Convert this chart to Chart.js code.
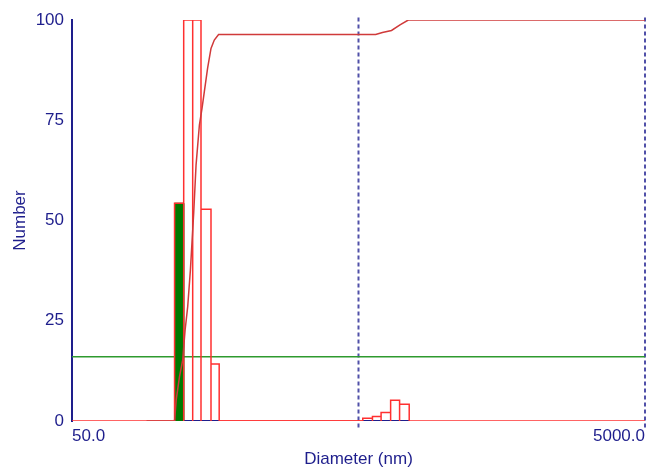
<!DOCTYPE html>
<html>
<head>
<meta charset="utf-8">
<title>Number distribution</title>
<script src="https://cdn.jsdelivr.net/npm/chart.js@4/dist/chart.umd.min.js"></script>
<style>
    body { margin: 0; background: #ffffff; }
    #wrap { width: 650px; height: 470px; }
</style>
</head>
<body>
<div id="wrap"><canvas id="chart" width="650" height="470"></canvas></div>
<script>
// Histogram bins (nm) and counts
const binStart = [114.0, 122.7, 131.9, 141.0, 152.8, 517.5, 559.4, 599.5, 647.3, 695.6];
const binEnd   = [122.7, 131.9, 141.0, 152.8, 163.2, 559.4, 599.5, 647.3, 695.6, 751.6];
const counts   = [54.3, 100, 100, 52.8, 14.2, 0.7, 1.1, 2.1, 5.2, 4.2];
const highlightBin = 0;

// Cumulative curve (%)
const cumDiam = [91, 114, 115.5, 118.6, 121.7, 124.1, 126.7, 129.5, 133.0, 135.5, 139.2, 142.2, 144.8, 148.7, 152.8, 156.9, 162.4, 574, 606, 652, 698, 746, 5000];
const cumPct  = [0, 0, 5.2, 11.0, 15.2, 22.7, 28.5, 37.7, 52.0, 63.8, 73.8, 78.0, 82.1, 88.0, 92.9, 95.0, 96.4, 96.4, 96.9, 97.4, 98.8, 100, 100];

// Reference lines
const thresholdLevel = 16;
const markerDiams = [500, 5000];

// Axes
const xRange = [50, 5000];
const xTickValues = [50, 5000];
const yRange = [0, 100];
const yStep = 25;

const NAVY = '#1e1e8c';
const RED = '#ff3030';

function barOutline() {
    const pts = [];
    for (let i = 0; i < counts.length; i++) {
        pts.push({x: binStart[i], y: 0}, {x: binStart[i], y: counts[i]},
                 {x: binEnd[i], y: counts[i]}, {x: binEnd[i], y: 0});
    }
    return pts;
}

function baseSegments() {
    // navy strip under the bar groups
    const pts = [];
    let s = binStart[0];
    for (let i = 0; i < counts.length; i++) {
        const next = binStart[i + 1];
        if (next === undefined || next !== binEnd[i]) {
            pts.push({x: s, y: 0}, {x: binEnd[i], y: 0}, {x: NaN, y: NaN});
            if (next !== undefined) s = next;
        }
    }
    return pts;
}

const datasets = [];

// cumulative line
datasets.push({
    data: cumDiam.map((d, i) => ({x: d, y: cumPct[i]})),
    borderColor: '#d03a3a', borderWidth: 1.5, order: 0
});

// bar outlines
datasets.push({
    data: barOutline(),
    borderColor: RED, borderWidth: 1.5, order: 1
});

// highlighted (green) bar
datasets.push({
    data: [
        {x: binStart[highlightBin], y: 0}, {x: binStart[highlightBin], y: counts[highlightBin]},
        {x: binEnd[highlightBin], y: counts[highlightBin]}, {x: binEnd[highlightBin], y: 0}
    ],
    borderColor: '#006400', borderWidth: 1, backgroundColor: '#007a00',
    fill: 'origin', order: 2
});

// navy under the bars
datasets.push({
    data: baseSegments(),
    borderColor: NAVY, borderWidth: 2, order: 3
});

// red baseline
datasets.push({
    data: [{x: xRange[0], y: 0}, {x: xRange[1], y: 0}],
    borderColor: RED, borderWidth: 1.5, order: 4
});

// green threshold
datasets.push({
    data: [{x: xRange[0], y: thresholdLevel}, {x: xRange[1], y: thresholdLevel}],
    borderColor: '#2e9a2e', borderWidth: 1.5, order: 5
});

// dashed markers
markerDiams.forEach(d => {
    datasets.push({
        data: [{x: d, y: -1.6}, {x: d, y: 100.6}],
        borderColor: '#5050a8', borderWidth: 2, borderDash: [4, 3],
        clip: false, order: 6
    });
});

datasets.forEach(ds => {
    ds.pointRadius = 0;
    ds.tension = 0;
    if (ds.fill === undefined) ds.fill = false;
});

const tickFont = {family: '"Liberation Sans", Arial, sans-serif', size: 17};

new Chart(document.getElementById('chart'), {
    type: 'line',
    data: {datasets: datasets},
    options: {
        responsive: false,
        animation: false,
        layout: {padding: {top: 20, right: 2, left: 0, bottom: 0}},
        plugins: {legend: {display: false}, tooltip: {enabled: false}},
        scales: {
            x: {
                type: 'logarithmic',
                min: xRange[0], max: xRange[1],
                afterBuildTicks: scale => { scale.ticks = xTickValues.map(v => ({value: v})); },
                afterFit: scale => { scale.height = 49; },
                grid: {display: false, drawTicks: false},
                border: {display: false},
                ticks: {
                    color: NAVY, font: tickFont, padding: 5, align: 'inner',
                    maxRotation: 0, autoSkip: false,
                    callback: v => Number(v).toFixed(1)
                },
                title: {
                    display: true, text: 'Diameter (nm)', color: NAVY,
                    font: tickFont, padding: {top: 0, bottom: 0}
                }
            },
            y: {
                min: yRange[0], max: yRange[1],
                afterFit: scale => { scale.width = 72; },
                grid: {display: false, drawTicks: false},
                border: {display: true, color: NAVY, width: 2},
                ticks: {color: NAVY, font: tickFont, stepSize: yStep, padding: 8},
                title: {
                    display: true, text: 'Number', color: NAVY,
                    font: tickFont, padding: {top: 10, bottom: 0}
                }
            }
        }
    }
});
</script>
</body>
</html>
